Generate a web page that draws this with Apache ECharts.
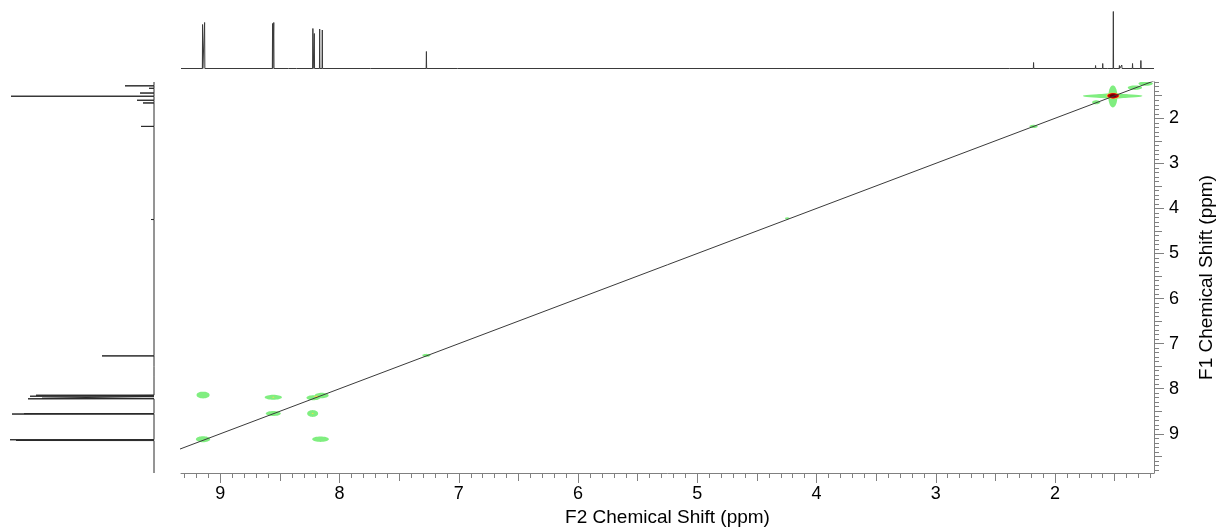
<!DOCTYPE html>
<html>
<head>
<meta charset="utf-8">
<script src="https://cdn.jsdelivr.net/npm/echarts@6/dist/echarts.min.js"></script>
<style>
html,body{margin:0;padding:0;background:#ffffff;}
#chart{width:1217px;height:529px;}
</style>
</head>
<body>
<div id="chart"></div>
<script>
// ---------------- data ----------------
const f2Range = [1.17, 9.33];          // ppm shown on the horizontal axis
const f1Range = [1.195, 9.87];         // ppm shown on the vertical axis
const tickLabels = ['2', '3', '4', '5', '6', '7', '8', '9'];

// F2 projection (top trace): peak positions (ppm) and intensities
const topPeakPpm    = [9.149, 9.132, 8.562, 8.552, 8.427, 8.36, 8.224, 8.212, 8.167, 8.145, 7.74, 7.55, 7.272, 7.01, 4.246, 2.38, 2.18, 1.66, 1.60, 1.56, 1.511, 1.46, 1.44, 1.35, 1.28];
const topPeakHeight = [44,    46,    45,    46,    1,     1,    40,    35,    39.5,  38.5,  1,    1,    17,    1,    2,     1,    6,    3,    5,    2,    57,    3,    3.5,  5,    8];

// F1 projection (left trace): peak positions (ppm) and intensities
const leftPeakPpm    = [1.18, 1.28, 1.335, 1.44, 1.511, 1.60, 1.66, 2.18, 4.246, 7.272, 7.51, 7.74, 8.145, 8.167, 8.212, 8.224, 8.552, 8.562, 9.132, 9.149];
const leftPeakHeight = [2,    29,   5,     14,   143,   17,   11,   13,   3,     52,    2,    2,    118,   124,   112,   126,   130,   142,   144,   138];

// contour blobs: [F2 ppm, F1 ppm, half-width F2 (ppm), half-width F1 (ppm), contour level]
const contours = [
  [9.145, 8.14, 0.055, 0.075, 0],
  [8.556, 8.19, 0.072, 0.055, 0],
  [8.22,  8.20, 0.058, 0.055, 0],
  [8.15,  8.15, 0.058, 0.06,  0],
  [8.556, 8.55, 0.063, 0.055, 0],
  [8.226, 8.55, 0.046, 0.075, 0],
  [9.145, 9.12, 0.06,  0.066, 0],
  [8.16,  9.12, 0.07,  0.06,  0],
  [7.272, 7.26, 0.034, 0.033, 0],
  [4.245, 4.22, 0.02,  0.022, 0],
  [2.18,  2.18, 0.034, 0.035, 0],
  [1.655, 1.645, 0.034, 0.045, 0],
  [1.33,  1.32, 0.06,  0.05,  0],
  [1.24,  1.23, 0.06,  0.05,  0],
  [1.517, 1.505, 0.25, 0.045, 0],
  [1.517, 1.505, 0.14, 0.06,  0],
  [1.515, 1.515, 0.038, 0.245, 0],
  [8.556, 8.19, 0.008, 0.012, 1],
  [8.226, 8.55, 0.008, 0.012, 1],
  [8.19,  8.17, 0.025, 0.012, 1],
  [1.513, 1.50, 0.056, 0.068, 1],
  [1.513, 1.50, 0.05,  0.06,  2],
  [1.513, 1.50, 0.044, 0.054, 3],
  [1.513, 1.50, 0.028, 0.034, 4]
];

// diagonal F1 = F2 (end points in ppm, clipped by the plot)
const diagonalEnds = [[9.6, 9.6], [1.0, 1.0]];

// ---------------- helpers ----------------
const levelColors = ['#80EE80', '#F2E04C', '#E8401C', '#C80000', '#680000'];
const spikeHalf = 0.002; // ppm half width of a drawn line
function traceF2(ppms, hs) {
  const idx = ppms.map((p, i) => i).sort((a, b) => ppms[b] - ppms[a]);
  const pts = [[f2Range[1], 0]];
  idx.forEach(i => {
    pts.push([ppms[i] + spikeHalf, 0], [ppms[i], hs[i]], [ppms[i] - spikeHalf, 0]);
  });
  pts.push([f2Range[0], 0]);
  return pts;
}
function traceF1(ppms, hs) {
  const idx = ppms.map((p, i) => i).sort((a, b) => ppms[a] - ppms[b]);
  const pts = [[0, f1Range[0]]];
  idx.forEach(i => {
    pts.push([0, ppms[i] - spikeHalf], [hs[i], ppms[i]], [0, ppms[i] + spikeHalf]);
  });
  pts.push([0, f1Range[1]]);
  return pts;
}
function stepValues(lo, hi, step, keep) {
  const out = [];
  for (let k = Math.ceil(lo / step - 1e-9); k * step <= hi + 1e-9; k++) {
    const v = Math.round(k * step * 1000) / 1000;
    if (keep(v)) out.push(v);
  }
  return out;
}
const majorVals = tickLabels.map(Number);
const isHalf = v => Math.abs(v * 2 - Math.round(v * 2)) < 1e-6 && Math.abs(v - Math.round(v)) > 1e-6;
const isInt = v => Math.abs(v - Math.round(v)) < 1e-6;
const minorX = stepValues(f2Range[0], f2Range[1], 0.1, v => !isHalf(v) && !isInt(v));
const halfX  = stepValues(f2Range[0], f2Range[1], 0.1, v => isHalf(v));
const minorY = stepValues(f1Range[0], f1Range[1], 0.1, v => !isHalf(v) && !isInt(v));
const halfY  = stepValues(f1Range[0], f1Range[1], 0.1, v => isHalf(v));

const FONT = 'Liberation Sans, Arial, Helvetica, sans-serif';
const axisGray = '#808080';

function tickAxis(base, vals, len, extra) {
  return Object.assign({
    type: 'value', gridIndex: 0, min: base.min, max: base.max, inverse: true,
    position: base.position,
    axisLine: { show: false },
    splitLine: { show: false },
    axisLabel: { show: false },
    axisTick: { show: true, length: len, customValues: vals, lineStyle: { color: axisGray, width: 1 } }
  }, extra || {});
}

const chart = echarts.init(document.getElementById('chart'), null, { renderer: 'canvas' });

const option = {
  animation: false,
  backgroundColor: '#ffffff',
  textStyle: { fontFamily: FONT },
  grid: [
    { left: 181, top: 82, width: 973, height: 391, outerBoundsMode: 'none' },   // 2D map
    { left: 181, top: 10, width: 973, height: 58.5, outerBoundsMode: 'none' },  // top trace
    { left: 0, top: 82, width: 154, height: 391, outerBoundsMode: 'none' }      // left trace
  ],
  xAxis: [
    {
      type: 'value', gridIndex: 0, min: f2Range[0], max: f2Range[1], inverse: true, position: 'bottom',
      axisLine: { show: true, lineStyle: { color: axisGray, width: 1 } },
      axisTick: { show: true, length: 10, customValues: majorVals, lineStyle: { color: axisGray } },
      axisLabel: { show: true, customValues: majorVals, color: '#000', fontSize: 18, margin: 12, fontFamily: FONT,
                   formatter: v => tickLabels[majorVals.indexOf(Math.round(v))] },
      splitLine: { show: false },
      name: 'F2 Chemical Shift (ppm)', nameLocation: 'middle', nameGap: 34,
      nameTextStyle: { color: '#000', fontSize: 19, fontFamily: FONT }
    },
    tickAxis({ min: f2Range[0], max: f2Range[1], position: 'bottom' }, minorX, 5),
    tickAxis({ min: f2Range[0], max: f2Range[1], position: 'bottom' }, halfX, 8),
    { type: 'value', gridIndex: 1, min: f2Range[0], max: f2Range[1], inverse: true, show: false },
    { type: 'value', gridIndex: 2, min: 0, max: 154, inverse: true, show: false }
  ],
  yAxis: [
    {
      type: 'value', gridIndex: 0, min: f1Range[0], max: f1Range[1], inverse: true, position: 'right',
      axisLine: { show: true, lineStyle: { color: axisGray, width: 1 } },
      axisTick: { show: true, length: 10, customValues: majorVals, lineStyle: { color: axisGray } },
      axisLabel: { show: true, customValues: majorVals, color: '#000', fontSize: 18, margin: 15, fontFamily: FONT,
                   formatter: v => tickLabels[majorVals.indexOf(Math.round(v))] },
      splitLine: { show: false },
      name: 'F1 Chemical Shift (ppm)', nameLocation: 'middle', nameGap: 43, nameRotate: 90,
      nameTextStyle: { color: '#000', fontSize: 19, fontFamily: FONT }
    },
    tickAxis({ min: f1Range[0], max: f1Range[1], position: 'right' }, minorY, 5),
    tickAxis({ min: f1Range[0], max: f1Range[1], position: 'right' }, halfY, 8),
    { type: 'value', gridIndex: 1, min: 0, max: 58.5, show: false },
    { type: 'value', gridIndex: 2, min: f1Range[0], max: f1Range[1], inverse: true, show: false }
  ],
  series: [
    {
      type: 'custom', xAxisIndex: 0, yAxisIndex: 0, clip: true,
      data: contours,
      encode: { x: 0, y: 1 },
      renderItem: function (params, api) {
        const f2 = api.value(0), f1 = api.value(1), w2 = api.value(2), w1 = api.value(3), lv = api.value(4);
        const c = api.coord([f2, f1]);
        const a = api.coord([f2 + w2, f1 + w1]);
        const rx = Math.abs(a[0] - c[0]), ry = Math.abs(a[1] - c[1]);
        const pts = [];
        for (let k = 0; k < 36; k++) {
          const t = k / 36 * Math.PI * 2;
          pts.push([c[0] + rx * Math.cos(t), c[1] + ry * Math.sin(t)]);
        }
        return { type: 'polygon', shape: { points: pts }, style: { fill: levelColors[lv], stroke: null } };
      },
      z: 2
    },
    {
      type: 'line', xAxisIndex: 0, yAxisIndex: 0, data: diagonalEnds, clip: true,
      showSymbol: false, symbol: 'none', lineStyle: { color: '#3a3a3a', width: 1 }, z: 3
    },
    {
      type: 'line', xAxisIndex: 3, yAxisIndex: 3, data: traceF2(topPeakPpm, topPeakHeight),
      showSymbol: false, symbol: 'none', clip: false, lineStyle: { color: '#3a3a3a', width: 1 }
    },
    {
      type: 'line', xAxisIndex: 4, yAxisIndex: 4, data: traceF1(leftPeakPpm, leftPeakHeight),
      showSymbol: false, symbol: 'none', clip: false, lineStyle: { color: '#2a2a2a', width: 1 }
    }
  ]
};
chart.setOption(option);
</script>
</body>
</html>
